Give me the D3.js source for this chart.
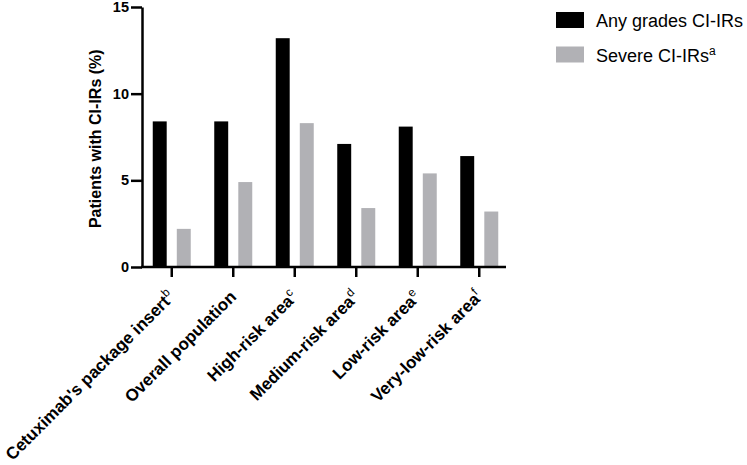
<!DOCTYPE html>
<html>
<head>
<meta charset="utf-8">
<script src="https://cdn.jsdelivr.net/npm/d3@7"></script>
<style>
  body { margin: 0; background: #fff; }
  svg { font-family: "Liberation Sans", Arial, sans-serif; }
  .axis path, .axis line { stroke: #000; stroke-width: 2.5px; }
  .axis text { font-weight: bold; font-size: 14.5px; fill: #000; }
</style>
</head>
<body>
<div id="chart"></div>
<script>
var categories = ["Cetuximab's package insert", "Overall population", "High-risk area",
  "Medium-risk area", "Low-risk area", "Very-low-risk area"];
var superscripts = ["b", "", "c", "d", "e", "f"];
var anyGrades = [8.4, 8.4, 13.2, 7.1, 8.1, 6.4];
var severe = [2.2, 4.9, 8.3, 3.4, 5.4, 3.2];
var seriesNames = ["Any grades CI-IRs", "Severe CI-IRs"];
var seriesSup = ["", "a"];
var yTicks = [0, 5, 10, 15];

var colors = { 0: "#000000", 1: "#b1b1b5" };

var width = 747, height = 465;

var svg = d3.select('#chart')
  .append('svg')
    .attr('width', width)
    .attr('height', height);

var x0 = d3.scaleBand()
    .domain(categories)
    .range([141, 510])
    .padding(0);

var x1 = d3.scaleBand()
    .domain([0, 1])
    .range([-19, 19])
    .paddingInner(0.42);

var y = d3.scaleLinear()
    .domain([0, 15])
    .range([267, 7]);

// bars
var groups = svg.append('g')
  .selectAll('g')
    .data(categories)
    .enter()
  .append('g')
    .attr('transform', function (d) { return 'translate(' + (x0(d) + x0.bandwidth() / 2) + ',0)'; });

groups.selectAll('rect')
    .data(function (d, i) { return [anyGrades[i], severe[i]]; })
    .enter()
  .append('rect')
    .attr('x', function (d, j) { return x1(j); })
    .attr('y', function (d) { return y(d); })
    .attr('width', x1.bandwidth())
    .attr('height', function (d) { return y(0) - y(d); })
    .attr('fill', function (d, j) { return colors[j]; });

// y axis
var yAxis = svg.append('g')
    .attr('class', 'axis')
    .attr('transform', 'translate(142,0)')
    .call(d3.axisLeft(y).tickValues(yTicks).tickSize(11).tickSizeOuter(0).tickPadding(2));

// x axis
var xAxis = svg.append('g')
    .attr('class', 'axis')
    .attr('transform', 'translate(0,' + y(0) + ')')
    .call(d3.axisBottom(x0).tickSize(10).tickSizeOuter(0).tickFormat(''));

xAxis.select('.domain').attr('d', 'M141,0H506');

svg.append('g')
  .selectAll('text')
    .data(categories)
    .enter()
  .append('text')
    .attr('transform', function (d) {
      return 'translate(' + (x0(d) + x0.bandwidth() / 2 + 4) + ',' + (y(0) + 31) + ') rotate(-45)';
    })
    .attr('text-anchor', 'end')
    .style('font-weight', 'bold')
    .style('font-size', '17px')
    .each(function (d, i) {
      var t = d3.select(this);
      t.append('tspan').text(d);
      if (superscripts[i]) {
        t.append('tspan')
          .attr('baseline-shift', 'super')
          .style('font-size', '12px')
          .style('font-weight', 'normal')
          .text(superscripts[i]);
      }
    });

// y label
svg.append('text')
    .attr('transform', 'translate(101,' + y(7.4) + ') rotate(-90)')
    .attr('text-anchor', 'middle')
    .style('font-weight', 'bold')
    .style('font-size', '16px')
    .text('Patients with CI-IRs (%)');

// legend
var legend = svg.append('g')
  .selectAll('g')
    .data(seriesNames)
    .enter()
  .append('g')
    .attr('transform', function (d, i) { return 'translate(556,' + (12 + i * 34.5) + ')'; });

legend.append('rect')
    .attr('width', 28)
    .attr('height', 16)
    .attr('fill', function (d, i) { return colors[i]; });

legend.append('text')
    .attr('x', 40)
    .attr('y', 15)
    .style('font-size', '18px')
    .each(function (d, i) {
      var t = d3.select(this);
      t.append('tspan').text(d);
      if (seriesSup[i]) {
        t.append('tspan')
          .attr('baseline-shift', 'super')
          .style('font-size', '12px')
          .text(seriesSup[i]);
      }
    });
</script>
</body>
</html>
